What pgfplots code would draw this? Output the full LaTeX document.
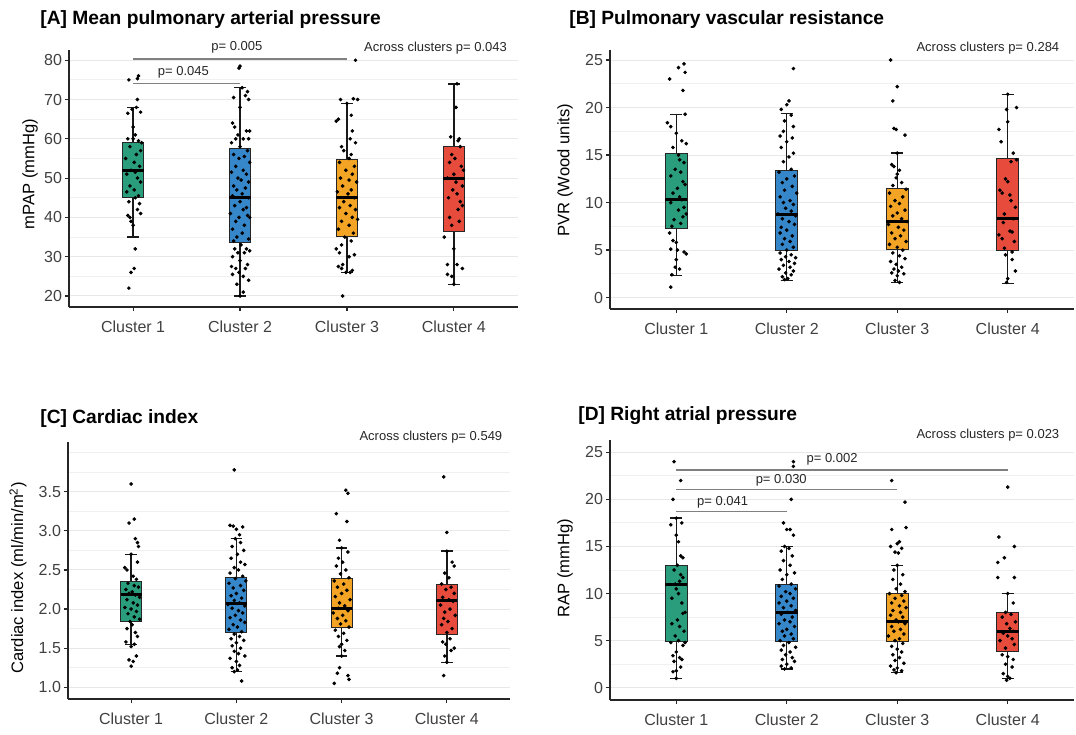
\documentclass[border=0pt]{standalone}
\usepackage{pgfplots}
\pgfplotsset{compat=1.18}
\usepackage{pgfplotstable}
\usepgfplotslibrary{statistics}
\usepackage{fontspec}
\setmainfont{Liberation Sans}
\definecolor{cg}{HTML}{2A9E7C}
\definecolor{cb}{HTML}{3687C9}
\definecolor{co}{HTML}{F4A425}
\definecolor{cr}{HTML}{E64B3B}
\definecolor{sig}{HTML}{808080}

% jittered points, panel A
\pgfplotstableread[row sep=\\]{x y\\
0.96 75\\ 1.05 76\\ 1.04 75.3\\ 1.04 70\\ 1.03 68\\ 0.99 67.5\\ 0.95 66.5\\ 1.07 66.8\\ 1.0 63\\ 1.02 61\\ 0.95 60\\ 1.0 60\\ 1.05 59.5\\ 1.08 59\\ 0.97 58\\ 1.07 57\\ 1.03 56\\ 0.93 55\\ 1.01 54\\ 1.06 53\\ 0.98 52\\ 1.02 51.5\\ 0.94 51\\ 1.04 50\\ 1.07 49\\ 0.97 48\\ 1.01 47\\ 0.94 46.5\\ 1.05 45.5\\ 1.02 45\\ 0.96 44\\ 1.06 43.5\\ 1.04 42\\ 1.07 41\\ 0.95 40.5\\ 0.97 40\\ 0.98 39\\ 1.0 38\\ 1.02 32\\ 1.01 27\\ 0.98 26\\ 0.96 22\\
2.0 78.5\\ 1.99 78\\ 2.02 73\\ 2.07 72\\ 2.05 71\\ 1.94 70.5\\ 2.08 70\\ 2.0 68\\ 1.93 64\\ 1.95 63\\ 2.06 62\\ 2.09 62\\ 1.98 61\\ 1.96 60\\ 2.03 60\\ 2.08 60\\ 1.92 59\\ 2.0 58\\ 2.07 57\\ 1.94 56\\ 2.04 55.5\\ 1.99 55\\ 2.09 54\\ 1.96 53\\ 2.03 52\\ 1.92 51.5\\ 2.06 51\\ 1.98 50\\ 2.01 49.5\\ 2.08 49\\ 1.94 48\\ 2.05 47.5\\ 1.97 47\\ 2.02 46\\ 1.93 45.5\\ 2.08 45\\ 2.0 44\\ 1.95 43\\ 2.06 42.5\\ 2.03 42\\ 1.91 41\\ 2.07 40.5\\ 2.09 40\\ 1.99 40\\ 1.96 39\\ 2.04 38\\ 1.93 37\\ 2.02 36\\ 1.97 35\\ 2.08 34.5\\ 1.94 34\\ 2.01 33\\ 2.06 32\\ 1.95 32\\ 2.09 31.5\\ 1.98 31\\ 2.04 31\\ 1.93 30\\ 2.0 29\\ 2.07 28\\ 1.92 27.5\\ 1.96 27\\ 2.05 27\\ 1.99 26\\ 1.93 25.5\\ 2.03 25\\ 2.08 24\\ 1.97 23\\ 2.03 21\\ 2.0 20\\
3.08 80\\ 2.96 20\\ 2.94 70\\ 3.06 70.2\\ 3.1 70\\ 3.0 69\\ 3.04 66\\ 2.92 65\\ 2.9 64.5\\ 3.05 62\\ 3.03 60\\ 3.08 59\\ 2.95 58\\ 2.97 57\\ 3.04 56\\ 3.02 55\\ 2.93 54\\ 3.07 53\\ 2.99 52\\ 3.05 51\\ 2.94 50\\ 3.02 49.5\\ 3.09 49\\ 2.96 48\\ 3.04 47\\ 2.91 46.5\\ 3.01 46\\ 3.07 45\\ 2.97 44\\ 3.03 43\\ 2.93 42.5\\ 3.08 42\\ 2.99 41\\ 3.05 40\\ 3.1 39.5\\ 2.95 39\\ 3.02 38\\ 2.92 37\\ 3.06 36\\ 2.98 35\\ 3.04 34\\ 2.95 33\\ 2.9 32\\ 2.93 31\\ 3.07 30.5\\ 3.02 30\\ 2.96 28\\ 2.92 27.5\\ 2.95 27\\ 3.05 26.5\\ 3.03 26\\ 2.99 26\\
4.03 74\\ 4.02 68\\ 3.97 60.5\\ 4.05 60\\ 4.04 59.5\\ 4.06 58\\ 3.98 56\\ 4.01 55\\ 3.96 54\\ 4.07 53\\ 4.09 52\\ 4.0 51\\ 3.94 50\\ 4.02 49\\ 4.08 48\\ 3.99 47\\ 4.03 46\\ 3.95 45\\ 4.06 44\\ 4.08 43\\ 4.04 42\\ 3.96 40\\ 4.05 39\\ 3.98 38\\ 3.91 35\\ 4.0 32\\ 3.94 28\\ 4.03 28\\ 4.08 27\\ 3.94 25.5\\ 3.98 25\\ 4.0 23\\
}\dA

% panel B
\pgfplotstableread[row sep=\\]{x y\\
1.07 24.6\\ 1.02 24.2\\ 1.08 23.7\\ 0.94 23\\ 1.06 21.8\\ 1.08 19.3\\ 0.92 18.4\\ 0.95 18\\ 1.0 17.3\\ 1.05 16.5\\ 1.09 16.2\\ 0.97 15.8\\ 1.02 15\\ 1.03 14.5\\ 1.07 14.2\\ 0.99 13.5\\ 1.04 13.2\\ 0.95 12.8\\ 1.06 12.2\\ 1.08 11.9\\ 1.01 11.5\\ 0.97 11\\ 1.03 10.6\\ 1.05 10.3\\ 0.95 10\\ 1.07 9.5\\ 1.02 9.2\\ 1.09 8.8\\ 1.06 8.5\\ 0.98 8.2\\ 1.04 7.8\\ 0.96 7.5\\ 0.94 6.8\\ 0.97 6\\ 1.0 5.8\\ 0.95 5.1\\ 1.01 5\\ 1.07 4.8\\ 1.09 4.6\\ 1.0 4\\ 0.99 3.2\\ 1.03 3\\ 0.96 2.4\\ 0.95 1.1\\
2.06 24.1\\ 2.02 20.7\\ 2.0 20.3\\ 1.95 19.8\\ 2.04 19.2\\ 1.98 18.6\\ 2.06 18\\ 1.97 17.5\\ 1.94 17\\ 2.05 16.8\\ 2.0 16.4\\ 1.95 15.8\\ 2.06 15.2\\ 2.02 14.8\\ 1.97 14.3\\ 2.04 13.5\\ 1.93 13.2\\ 2.07 12.8\\ 2.0 12.5\\ 1.96 12.1\\ 2.05 11.7\\ 1.98 11.3\\ 2.09 11\\ 1.94 10.6\\ 2.03 10.2\\ 1.97 10\\ 2.06 9.8\\ 1.99 9.4\\ 2.04 9.1\\ 1.92 8.8\\ 2.08 8.6\\ 1.96 8.3\\ 2.02 8\\ 2.07 7.7\\ 1.95 7.4\\ 2.0 7.1\\ 1.94 6.8\\ 2.05 6.5\\ 1.98 6.2\\ 2.03 5.9\\ 1.96 5.6\\ 2.06 5.3\\ 2.0 5\\ 1.94 4.7\\ 2.04 4.5\\ 1.99 4.3\\ 2.08 4.2\\ 1.95 4\\ 2.02 3.8\\ 2.07 3.6\\ 1.97 3.4\\ 2.03 3.2\\ 1.93 3\\ 2.06 2.8\\ 1.99 2.6\\ 2.04 2.4\\ 1.96 2.2\\ 2.01 2\\ 1.98 1.9\\
2.94 25\\ 3.0 22.2\\ 2.96 20.7\\ 2.97 17.8\\ 2.99 17.7\\ 3.07 17.1\\ 3.0 15.2\\ 2.95 14\\ 2.97 13.8\\ 3.02 13.4\\ 3.0 13\\ 2.99 12.6\\ 3.04 12.1\\ 2.96 11.8\\ 3.08 11.4\\ 2.93 11\\ 3.05 10.6\\ 2.98 10.2\\ 3.02 9.9\\ 2.94 9.6\\ 3.07 9.2\\ 3.0 8.9\\ 2.96 8.6\\ 3.04 8.3\\ 3.09 8\\ 2.92 7.7\\ 3.01 7.4\\ 3.06 7.1\\ 2.95 6.8\\ 3.03 6.5\\ 2.98 6.2\\ 3.08 5.9\\ 2.93 5.6\\ 3.0 5.3\\ 3.05 5\\ 2.96 4.7\\ 3.02 4.4\\ 3.07 4.1\\ 2.94 3.8\\ 2.99 3.5\\ 3.04 3.2\\ 2.97 3\\ 3.01 2.8\\ 2.95 2.6\\ 3.06 2.5\\ 3.0 2.3\\ 2.98 1.8\\ 3.02 1.6\\
4.0 21.4\\ 4.08 20\\ 3.99 19.8\\ 4.0 18.5\\ 3.92 17.7\\ 3.94 16.4\\ 4.05 15.2\\ 4.08 14.5\\ 4.03 14.3\\ 3.98 12.5\\ 4.0 12.2\\ 3.93 11.3\\ 3.95 11\\ 4.02 10.8\\ 4.03 10.2\\ 4.07 9.5\\ 3.97 8.8\\ 4.05 8.3\\ 3.96 7.9\\ 4.02 7\\ 4.04 6.9\\ 3.92 6.6\\ 3.95 6.2\\ 4.06 5.9\\ 3.97 5.2\\ 4.04 4.8\\ 3.98 4.5\\ 4.04 4\\ 4.07 2.8\\ 4.0 2\\ 3.99 1.6\\
}\dB

% panel C
\pgfplotstableread[row sep=\\]{x y\\
1.0 3.6\\ 1.03 3.15\\ 0.98 3.1\\ 1.04 2.9\\ 1.06 2.85\\ 1.07 2.8\\ 1.0 2.7\\ 1.06 2.6\\ 0.94 2.53\\ 0.96 2.5\\ 1.02 2.42\\ 1.05 2.38\\ 0.97 2.33\\ 1.03 2.3\\ 1.07 2.28\\ 0.95 2.25\\ 1.01 2.22\\ 0.98 2.2\\ 1.04 2.18\\ 1.08 2.15\\ 0.96 2.12\\ 1.02 2.08\\ 1.06 2.05\\ 0.94 2.02\\ 1.0 2.0\\ 1.05 1.97\\ 0.97 1.94\\ 1.03 1.9\\ 1.08 1.87\\ 0.99 1.84\\ 1.01 1.8\\ 0.96 1.75\\ 1.04 1.7\\ 1.06 1.65\\ 0.95 1.58\\ 1.03 1.55\\ 1.0 1.52\\ 1.05 1.4\\ 0.98 1.35\\ 1.02 1.33\\ 1.0 1.27\\
1.98 3.78\\ 1.94 3.07\\ 1.97 3.06\\ 2.06 3.05\\ 2.0 3.02\\ 2.03 2.95\\ 1.99 2.9\\ 2.04 2.85\\ 1.96 2.8\\ 2.07 2.75\\ 2.01 2.7\\ 1.95 2.65\\ 2.04 2.6\\ 2.08 2.57\\ 1.98 2.53\\ 2.02 2.5\\ 1.94 2.46\\ 2.06 2.42\\ 1.99 2.39\\ 2.09 2.36\\ 1.93 2.33\\ 2.04 2.3\\ 1.97 2.27\\ 2.07 2.24\\ 2.0 2.2\\ 1.95 2.17\\ 2.05 2.14\\ 1.98 2.11\\ 2.03 2.08\\ 1.92 2.06\\ 2.08 2.04\\ 1.96 2.01\\ 2.02 1.98\\ 2.06 1.95\\ 1.99 1.92\\ 1.94 1.89\\ 2.04 1.86\\ 2.08 1.83\\ 1.97 1.8\\ 2.01 1.77\\ 1.93 1.74\\ 2.05 1.71\\ 1.98 1.68\\ 2.03 1.65\\ 1.95 1.62\\ 2.07 1.6\\ 2.0 1.57\\ 1.96 1.53\\ 2.04 1.5\\ 1.98 1.46\\ 2.02 1.43\\ 2.08 1.4\\ 1.94 1.37\\ 2.0 1.33\\ 2.03 1.28\\ 1.96 1.25\\ 2.01 1.22\\ 1.98 1.2\\ 2.05 1.08\\
3.04 3.52\\ 3.06 3.48\\ 2.95 3.22\\ 3.05 3.12\\ 2.98 2.88\\ 3.0 2.78\\ 3.06 2.73\\ 2.97 2.65\\ 3.01 2.6\\ 2.95 2.55\\ 3.04 2.5\\ 2.99 2.45\\ 3.07 2.4\\ 2.93 2.36\\ 3.02 2.32\\ 2.96 2.28\\ 3.05 2.24\\ 3.0 2.2\\ 2.94 2.16\\ 3.08 2.12\\ 2.98 2.08\\ 3.03 2.04\\ 2.97 2.01\\ 3.06 1.98\\ 2.92 1.95\\ 3.01 1.92\\ 2.96 1.88\\ 3.04 1.85\\ 2.99 1.81\\ 3.07 1.77\\ 2.94 1.73\\ 3.02 1.69\\ 2.97 1.65\\ 3.05 1.6\\ 3.0 1.55\\ 2.98 1.52\\ 3.03 1.47\\ 3.0 1.4\\ 2.98 1.25\\ 2.96 1.18\\ 3.06 1.15\\ 3.07 1.1\\ 2.93 1.05\\
3.97 3.69\\ 4.0 2.98\\ 4.0 2.74\\ 4.05 2.6\\ 4.07 2.55\\ 3.98 2.46\\ 4.02 2.4\\ 3.95 2.32\\ 4.04 2.28\\ 3.99 2.25\\ 4.07 2.2\\ 3.96 2.15\\ 4.02 2.12\\ 4.06 2.1\\ 3.94 2.05\\ 4.03 2.0\\ 3.98 1.96\\ 4.08 1.92\\ 3.97 1.88\\ 4.01 1.84\\ 3.95 1.8\\ 4.05 1.75\\ 4.0 1.7\\ 4.03 1.62\\ 3.96 1.58\\ 3.99 1.55\\ 4.07 1.5\\ 4.04 1.47\\ 3.98 1.4\\ 4.0 1.32\\ 3.97 1.15\\
}\dC

% panel D
\pgfplotstableread[row sep=\\]{x y\\
0.98 24\\ 1.04 22\\ 0.97 20\\ 1.0 18\\ 0.95 17.3\\ 1.05 17.5\\ 1.0 16.2\\ 1.02 15.5\\ 1.04 14\\ 1.06 13.8\\ 1.01 13\\ 0.98 12.5\\ 1.04 12\\ 1.06 11.7\\ 1.03 11.3\\ 0.99 11\\ 1.0 10.5\\ 1.02 10\\ 0.96 9.5\\ 1.05 9\\ 1.08 8\\ 1.06 7.9\\ 1.01 7.2\\ 0.96 6.8\\ 1.03 6.5\\ 1.07 6\\ 0.99 5.5\\ 1.02 5\\ 0.95 4.8\\ 1.06 4.5\\ 1.08 4.8\\ 1.0 3.8\\ 0.97 3.4\\ 1.03 3.2\\ 1.05 3\\ 0.98 2.8\\ 1.04 2.2\\ 1.0 1.8\\ 0.97 1.7\\ 1.0 1\\
2.06 24\\ 2.06 23.5\\ 2.04 20\\ 1.97 17.5\\ 2.0 16.8\\ 2.03 16.8\\ 2.06 16.2\\ 1.98 15\\ 2.02 14.8\\ 1.95 14.5\\ 2.05 14\\ 1.97 13.5\\ 2.03 13\\ 1.94 12.5\\ 2.07 12.2\\ 2.0 12\\ 1.96 11.5\\ 2.04 11\\ 1.93 10.8\\ 2.08 10.5\\ 1.99 10.2\\ 2.03 10\\ 1.95 9.7\\ 2.06 9.5\\ 2.0 9.2\\ 1.93 9\\ 2.04 8.7\\ 1.97 8.5\\ 2.08 8.2\\ 2.01 8\\ 1.95 7.8\\ 2.05 7.5\\ 1.98 7.2\\ 2.03 7\\ 1.93 6.8\\ 2.07 6.5\\ 2.0 6.2\\ 1.96 6\\ 2.04 5.7\\ 1.98 5.5\\ 2.06 5.2\\ 1.94 5\\ 2.02 4.8\\ 1.97 4.5\\ 2.08 4.3\\ 1.95 4\\ 2.03 3.8\\ 1.99 3.5\\ 2.05 3.2\\ 1.96 3\\ 2.07 2.8\\ 2.0 2.5\\ 1.95 2.3\\ 2.04 2.1\\ 1.98 2\\
2.95 22\\ 3.07 19.7\\ 3.08 17\\ 2.95 16.8\\ 3.02 15.5\\ 3.0 15.3\\ 2.94 15\\ 3.04 14.8\\ 2.98 14.4\\ 3.01 14.3\\ 3.0 13\\ 2.97 12.5\\ 3.05 12\\ 2.96 11.5\\ 3.03 11\\ 2.99 10.5\\ 3.07 10.2\\ 2.93 10\\ 3.04 9.8\\ 2.98 9.5\\ 3.06 9.2\\ 2.95 9\\ 3.02 8.7\\ 3.08 8.5\\ 2.96 8.2\\ 3.03 8\\ 2.94 7.7\\ 3.05 7.5\\ 2.99 7.2\\ 3.01 7\\ 3.07 6.8\\ 2.95 6.5\\ 3.03 6.2\\ 2.97 6\\ 3.06 5.7\\ 2.92 5.5\\ 3.02 5.2\\ 2.98 5\\ 3.05 4.7\\ 2.95 4.4\\ 3.0 4.1\\ 3.04 3.8\\ 2.96 3.5\\ 3.02 3.2\\ 2.98 2.9\\ 3.06 2.6\\ 2.94 2.3\\ 3.0 2.1\\ 2.97 1.9\\ 3.04 1.8\\ 2.99 1.6\\
4.0 21.3\\ 3.92 16\\ 4.06 15\\ 3.97 13.8\\ 3.91 13.3\\ 3.91 11.7\\ 4.06 11.7\\ 4.0 10\\ 4.05 9\\ 3.98 8\\ 4.03 7.8\\ 3.95 7.5\\ 4.07 7\\ 3.99 6.8\\ 4.02 6.3\\ 4.05 6\\ 3.96 5.8\\ 4.0 5.5\\ 4.04 5.2\\ 3.93 5\\ 4.06 4.6\\ 3.98 4.2\\ 3.95 3.5\\ 4.0 3.3\\ 4.05 3\\ 3.98 2.5\\ 4.04 2.2\\ 3.96 1.5\\ 4.0 1.2\\ 4.02 1\\ 3.99 0.8\\
}\dD

\newcommand{\bx}[7]{\addplot[fill=#7, draw=black!85, line width=0.45pt,
  boxplot/draw direction=y,
  boxplot prepared={draw position=#1, lower whisker=#2, lower quartile=#3, median=#4, upper quartile=#5, upper whisker=#6,
  box extend=0.2, whisker extend=0.11,
  every median/.style={line width=1.5pt, draw=black},
  every whisker/.style={line width=0.7pt, draw=black!90}}] coordinates {};}

\pgfplotsset{
 panel/.style={scale only axis, anchor=south west, xmin=0.4, xmax=4.6, clip=false,
  axis lines=left, axis line style={-, black!85, line width=0.75pt},
  xtick={1,2,3,4}, xticklabels={Cluster 1,Cluster 2,Cluster 3,Cluster 4},
  tick align=outside, major tick length=2pt, minor tick length=0pt,
  tick style={black!85, line width=0.6pt},
  ymajorgrids, yminorgrids,
  major grid style={black!9, line width=0.5pt},
  minor grid style={black!6, line width=0.5pt},
  ticklabel style={font=\fontsize{8}{9}\selectfont, text=black!75},
  xticklabel style={yshift=-1.5pt},
  yticklabel style={xshift=2pt},
  /pgf/number format/assume math mode=true},
 pts/.style={only marks, mark=*, mark size=0.7pt, black, mark options={draw=black, fill=black}},
}
\newcommand{\pfont}{\fontsize{6.5}{7.5}\selectfont}

\begin{document}
\begin{tikzpicture}
\path[use as bounding box] (0pt,0pt) rectangle (538pt,367pt);

% titles
\node[anchor=base west, font=\fontsize{9.6}{11}\selectfont\bfseries, inner sep=0] at (20pt,354.5pt) {[A] Mean pulmonary arterial pressure};
\node[anchor=base west, font=\fontsize{9.6}{11}\selectfont\bfseries, inner sep=0] at (284.5pt,354.5pt) {[B] Pulmonary vascular resistance};
\node[anchor=base west, font=\fontsize{9.6}{11}\selectfont\bfseries, inner sep=0] at (20pt,155pt) {[C] Cardiac index};
\node[anchor=base west, font=\fontsize{9.6}{11}\selectfont\bfseries, inner sep=0] at (289pt,156.5pt) {[D] Right atrial pressure};
% y labels
\node[rotate=90, font=\fontsize{8.3}{10}\selectfont] at (15pt,280pt) {mPAP (mmHg)};
\node[rotate=90, font=\fontsize{8.3}{10}\selectfont] at (282.5pt,282pt) {PVR (Wood units)};
\node[rotate=90, font=\fontsize{8.3}{10}\selectfont] at (9pt,78pt) {Cardiac index (ml/min/m\textsuperscript{2})};
\node[rotate=90, font=\fontsize{8.3}{10}\selectfont] at (282.5pt,83pt) {RAP (mmHg)};

% ---------- A ----------
\begin{axis}[panel, at={(34.5pt,213.5pt)}, width=224.5pt, height=128.3pt,
  ymin=17.2, ymax=82.5, ytick={20,30,...,80}, minor ytick={25,35,...,75}]
\bx{1}{35}{45}{52}{59}{68}{cg}
\bx{2}{20}{33.5}{45}{57.5}{73}{cb}
\bx{3}{26}{35.2}{45}{54.8}{69}{co}
\bx{4}{23}{36.5}{50}{58}{74}{cr}
\addplot[pts] table {\dA};
\draw[sig, line width=0.75pt] (axis cs:1,74.1) -- (axis cs:2,74.1);
\draw[sig, line width=0.75pt] (axis cs:1,80.3) -- (axis cs:3,80.3);
\node[font=\pfont, text=black!85] at (axis cs:1.47,77.0) {p= 0.045};
\node[font=\pfont, text=black!85] at (axis cs:1.97,83.4) {p= 0.005};
\node[font=\pfont, text=black!85, anchor=east, inner sep=0] at (axis cs:4.5,83.0) {Across clusters p= 0.043};
\end{axis}

% ---------- B ----------
\begin{axis}[panel, at={(305pt,212.5pt)}, width=232pt, height=129.7pt,
  ymin=-1.2, ymax=26.1, ytick={0,5,...,25}, minor ytick={2.5,7.5,...,22.5}]
\bx{1}{2.3}{7.3}{10.3}{15.2}{19.3}{cg}
\bx{2}{1.8}{5}{8.7}{13.4}{19.4}{cb}
\bx{3}{1.6}{5.1}{8}{11.5}{15.2}{co}
\bx{4}{1.5}{5}{8.3}{14.6}{21.4}{cr}
\addplot[pts] table {\dB};
\node[font=\pfont, text=black!85, anchor=east, inner sep=0] at (axis cs:4.47,26.3) {Across clusters p= 0.284};
\end{axis}

% ---------- C ----------
\begin{axis}[panel, at={(34pt,17.5pt)}, width=221pt, height=128.65pt,
  ymin=0.85, ymax=4.14, ytick={1,1.5,...,3.5}, minor ytick={1.25,1.75,...,3.75,4.0},
  yticklabel style={/pgf/number format/.cd, fixed, fixed zerofill, precision=1}]
\bx{1}{1.55}{1.84}{2.18}{2.35}{2.7}{cg}
\bx{2}{1.2}{1.7}{2.07}{2.4}{2.9}{cb}
\bx{3}{1.4}{1.76}{2.01}{2.39}{2.78}{co}
\bx{4}{1.32}{1.68}{2.11}{2.32}{2.74}{cr}
\addplot[pts] table {\dC};
\node[font=\pfont, text=black!85, anchor=east, inner sep=0] at (axis cs:4.53,4.2) {Across clusters p= 0.549};
\end{axis}

% ---------- D ----------
\begin{axis}[panel, at={(305pt,17pt)}, width=232pt, height=130pt,
  ymin=-1.3, ymax=26.3, ytick={0,5,...,25}, minor ytick={2.5,7.5,...,22.5}]
\bx{1}{1}{4.9}{11}{13}{18}{cg}
\bx{2}{2}{4.9}{8}{11}{15}{cb}
\bx{3}{1.6}{4.9}{7}{10}{13}{co}
\bx{4}{1}{3.9}{6}{8}{10}{cr}
\addplot[pts] table {\dD};
\draw[sig, line width=0.75pt] (axis cs:1,18.7) -- (axis cs:2,18.7);
\draw[sig, line width=0.75pt] (axis cs:1,21.06) -- (axis cs:3,21.06);
\draw[sig, line width=0.75pt] (axis cs:1,23.1) -- (axis cs:4,23.1);
\node[font=\pfont, text=black!85] at (axis cs:1.42,19.7) {p= 0.041};
\node[font=\pfont, text=black!85] at (axis cs:1.95,22.05) {p= 0.030};
\node[font=\pfont, text=black!85] at (axis cs:2.41,24.2) {p= 0.002};
\node[font=\pfont, text=black!85, anchor=east, inner sep=0] at (axis cs:4.47,26.8) {Across clusters p= 0.023};
\end{axis}
\end{tikzpicture}
\end{document}
